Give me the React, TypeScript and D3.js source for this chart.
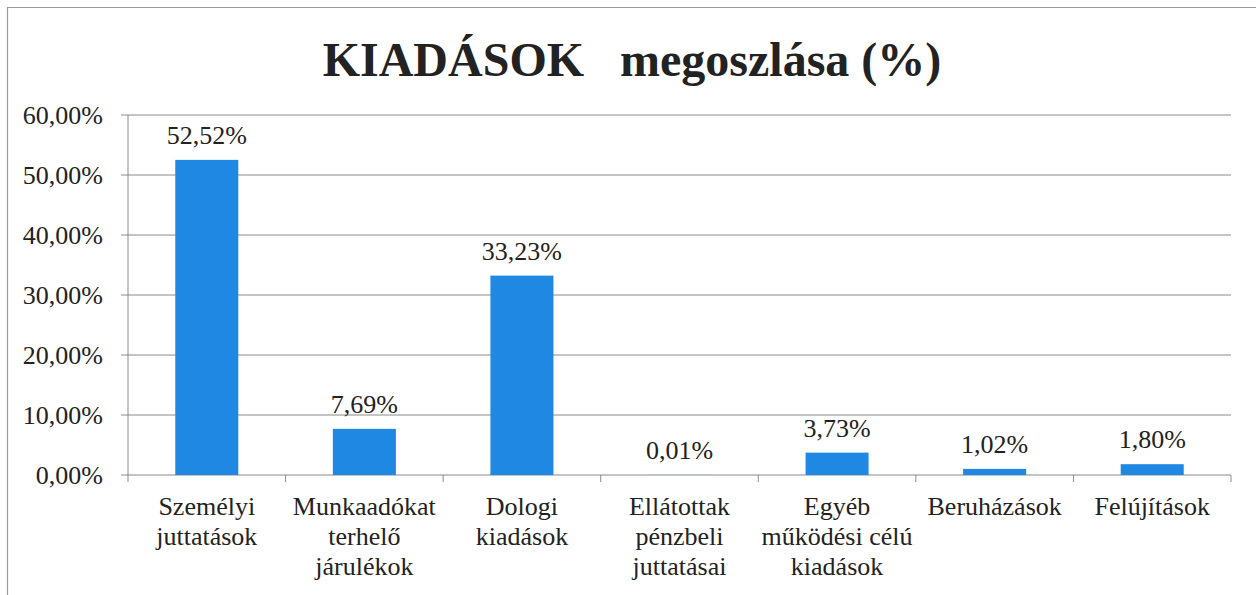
import React from "react";
import * as d3 from "d3";

const categories: string[][] = [
  ["Személyi", "juttatások"],
  ["Munkaadókat", "terhelő", "járulékok"],
  ["Dologi", "kiadások"],
  ["Ellátottak", "pénzbeli", "juttatásai"],
  ["Egyéb", "működési célú", "kiadások"],
  ["Beruházások"],
  ["Felújítások"],
];
const values: number[] = [52.52, 7.69, 33.23, 0.01, 3.73, 1.02, 1.8];
const yTicks: number[] = [0, 10, 20, 30, 40, 50, 60];

const W = 1256;
const H = 595;
const left = 128;
const right = 1231;
const top = 115;
const bottom = 475;
const font = "Liberation Serif";

const fmt = (v: number) => v.toFixed(2).replace(".", ",") + "%";

export default function App() {
  const x = d3
    .scaleBand<number>()
    .domain(values.map((_, i) => i))
    .range([left, right])
    .paddingInner(0.6)
    .paddingOuter(0.3);
  const band = d3.scaleBand<number>().domain(values.map((_, i) => i)).range([left, right]);
  const y = d3.scaleLinear().domain([0, 60]).range([bottom, top]);
  const ts = { fontFamily: font } as React.CSSProperties;

  return (
    <svg
      width={W}
      height={H}
      style={{ position: "absolute", left: 0, top: 0, background: "#fff" }}
    >
      <rect x={0} y={0} width={W} height={H} fill="#fff" />
      <line x1={7} y1={7.5} x2={W} y2={7.5} stroke="#9a9a9a" strokeWidth={1.2} />
      <line x1={7.5} y1={7} x2={7.5} y2={H} stroke="#9a9a9a" strokeWidth={1.2} />
      <text
        x={632}
        y={76}
        textAnchor="middle"
        fontWeight="bold"
        fontSize={48}
        fill="#222"
        style={{ ...ts, whiteSpace: "pre" }}
      >
        {"KIADÁSOK   megoszlása (%)"}
      </text>
      {yTicks.map((t) => (
        <g key={t}>
          <line x1={left} x2={right} y1={y(t)} y2={y(t)} stroke="#8a8a8a" strokeWidth={1} />
          <line x1={left - 7} x2={left} y1={y(t)} y2={y(t)} stroke="#8a8a8a" strokeWidth={1} />
          <text x={103} y={y(t) + 9} textAnchor="end" fontSize={26} fill="#222" style={ts}>
            {fmt(t)}
          </text>
        </g>
      ))}
      <line x1={left} x2={left} y1={top} y2={bottom} stroke="#8a8a8a" strokeWidth={1} />
      {values.map((_, i) => (
        <line
          key={"t" + i}
          x1={band(i)!}
          x2={band(i)!}
          y1={bottom}
          y2={bottom + 7}
          stroke="#8a8a8a"
        />
      ))}
      <line x1={right} x2={right} y1={bottom} y2={bottom + 7} stroke="#8a8a8a" />
      {values.map((v, i) => (
        <rect
          key={"b" + i}
          x={x(i)!}
          y={y(v)}
          width={x.bandwidth()}
          height={bottom - y(v)}
          fill="#1e88e2"
        />
      ))}
      {values.map((v, i) => (
        <text
          key={"l" + i}
          x={x(i)! + x.bandwidth() / 2}
          y={y(v) - 16}
          textAnchor="middle"
          fontSize={26}
          fill="#222"
          style={ts}
        >
          {fmt(v)}
        </text>
      ))}
      {categories.map((lines, i) => (
        <text
          key={"c" + i}
          x={band(i)! + band.bandwidth() / 2}
          y={515}
          textAnchor="middle"
          fontSize={26}
          fill="#222"
          style={ts}
        >
          {lines.map((ln, j) => (
            <tspan key={j} x={band(i)! + band.bandwidth() / 2} dy={j === 0 ? 0 : 30}>
              {ln}
            </tspan>
          ))}
        </text>
      ))}
    </svg>
  );
}
